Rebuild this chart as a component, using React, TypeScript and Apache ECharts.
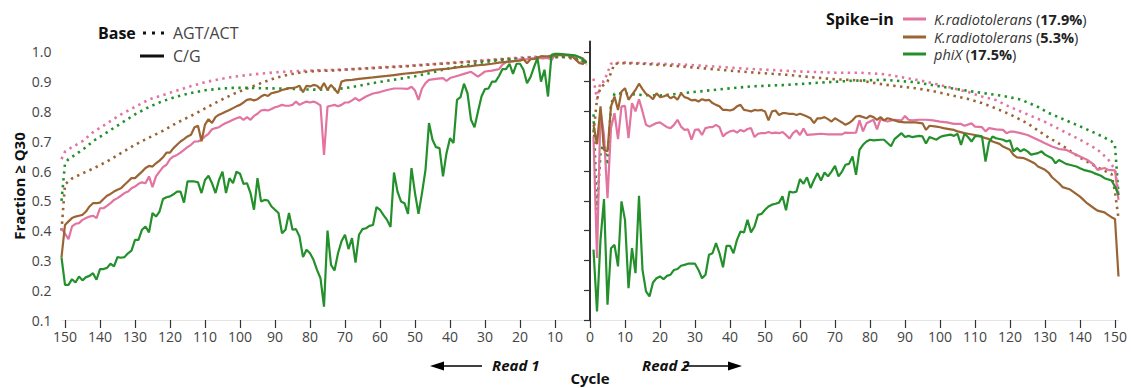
import React, { useEffect, useRef } from "react";
import * as echarts from "echarts";

// ---------- tick labels ----------
const xTicksRead1 = [10, 20, 30, 40, 50, 60, 70, 80, 90, 100, 110, 120, 130, 140, 150];
const xTicksRead2 = [0, 10, 20, 30, 40, 50, 60, 70, 80, 90, 100, 110, 120, 130, 140, 150];
const yTicks = [0.1, 0.2, 0.3, 0.4, 0.5, 0.6, 0.7, 0.8, 0.9, 1.0];

// ---------- Read 1 (cycle, fraction >= Q30) ----------
const r1PinkCG: [number, number][] = [[151,.408],[150,.39],[149,.371],[148,.414],[147,.423],[146,.425],[145,.436],[144,.442],[143,.447],[142,.45],[141,.442],[140,.475],[139,.475],[138,.483],[137,.492],[136,.503],[135,.509],[134,.517],[133,.526],[132,.531],[131,.542],[130,.548],[129,.557],[128,.562],[127,.559],[126,.582],[125,.546],[124,.582],[123,.598],[122,.613],[121,.621],[120,.64],[119,.649],[118,.654],[117,.662],[116,.671],[115,.68],[114,.688],[113,.699],[112,.699],[111,.705],[110,.716],[109,.725],[108,.74],[107,.744],[106,.747],[105,.755],[104,.761],[103,.766],[102,.772],[101,.777],[100,.781],[99,.772],[98,.781],[97,.772],[96,.785],[95,.792],[94,.803],[93,.805],[92,.803],[91,.808],[90,.814],[89,.817],[88,.822],[87,.819],[86,.819],[85,.822],[84,.833],[83,.822],[82,.828],[81,.833],[80,.83],[79,.833],[78,.828],[77,.82],[76,.654],[75,.816],[74,.819],[73,.822],[72,.817],[71,.822],[70,.83],[69,.83],[68,.837],[67,.845],[66,.836],[64,.85],[62,.86],[60,.865],[58,.872],[56,.877],[54,.877],[52,.876],[51,.883],[50,.87],[49,.839],[48,.877],[47,.895],[46,.906],[44,.909],[42,.912],[41,.902],[40,.912],[38,.919],[36,.926],[34,.933],[32,.917],[30,.934],[28,.937],[26,.942],[25,.957],[24,.965],[22,.968],[20,.975],[18,.975],[16,.979],[14,.979],[12,.979],[11,.972],[10,.99],[8,.991],[6,.99],[4,.986],[2,.978],[1,.965]];
const r1BrownCG: [number, number][] = [[151,.31],[150,.419],[149,.431],[148,.442],[147,.447],[146,.45],[145,.453],[144,.464],[143,.481],[142,.492],[141,.492],[140,.494],[139,.506],[138,.517],[137,.523],[136,.531],[135,.537],[134,.542],[133,.554],[132,.565],[131,.576],[130,.576],[129,.587],[128,.598],[127,.61],[126,.617],[125,.615],[124,.626],[123,.635],[122,.646],[121,.662],[120,.662],[119,.677],[118,.688],[117,.699],[116,.707],[115,.716],[114,.722],[113,.747],[112,.752],[111,.70],[110,.756],[109,.774],[108,.761],[107,.781],[106,.789],[105,.794],[104,.8],[103,.805],[102,.811],[101,.817],[100,.822],[99,.83],[98,.839],[97,.841],[96,.837],[95,.841],[94,.85],[93,.856],[92,.852],[91,.861],[90,.864],[89,.867],[88,.872],[87,.875],[86,.878],[85,.878],[84,.881],[83,.886],[82,.864],[81,.886],[80,.884],[79,.889],[78,.886],[77,.875],[76,.895],[75,.872],[74,.889],[73,.875],[72,.861],[71,.9],[70,.904],[68,.906],[66,.909],[64,.912],[62,.914],[60,.917],[58,.919],[56,.922],[54,.925],[52,.928],[50,.93],[48,.933],[46,.937],[44,.94],[42,.942],[40,.944],[38,.948],[36,.95],[34,.952],[32,.955],[30,.957],[28,.96],[26,.964],[24,.966],[22,.969],[20,.97],[19,.975],[18,.962],[17,.975],[16,.976],[14,.985],[12,.985],[10,.988],[8,.99],[6,.988],[5,.984],[4,.973],[3,.962],[2,.96],[1,.971]];
const r1GreenCG: [number, number][] = [[151,.31],[150,.218],[149,.218],[148,.237],[147,.226],[146,.246],[145,.233],[144,.244],[143,.248],[142,.257],[141,.235],[140,.271],[139,.271],[138,.275],[137,.289],[136,.28],[135,.311],[134,.309],[133,.311],[132,.324],[131,.333],[130,.369],[129,.369],[128,.403],[127,.414],[126,.394],[125,.459],[124,.447],[123,.464],[122,.506],[121,.512],[120,.515],[119,.522],[118,.531],[117,.531],[116,.494],[115,.565],[114,.565],[113,.565],[112,.562],[111,.526],[110,.57],[109,.584],[108,.559],[107,.526],[106,.57],[105,.598],[104,.526],[103,.576],[102,.559],[101,.598],[100,.591],[99,.557],[98,.559],[97,.526],[96,.47],[95,.576],[94,.498],[93,.503],[92,.501],[91,.481],[90,.47],[89,.459],[88,.391],[87,.403],[86,.459],[85,.403],[84,.405],[83,.38],[82,.311],[81,.336],[80,.324],[79,.302],[78,.268],[77,.24],[76,.145],[75,.4],[74,.285],[73,.266],[72,.324],[71,.364],[70,.386],[69,.338],[68,.375],[67,.293],[66,.386],[65,.405],[64,.408],[63,.416],[62,.419],[61,.479],[60,.47],[59,.452],[58,.436],[57,.412],[56,.595],[55,.531],[54,.498],[53,.492],[52,.456],[51,.61],[50,.526],[49,.456],[48,.526],[47,.604],[46,.761],[45,.705],[44,.68],[43,.677],[42,.582],[41,.66],[40,.71],[39,.694],[38,.839],[37,.848],[36,.893],[35,.861],[34,.772],[33,.747],[32,.8],[31,.85],[30,.875],[29,.877],[28,.9],[27,.9],[26,.919],[25,.942],[24,.942],[23,.96],[22,.926],[21,.96],[20,.96],[19,.94],[18,.895],[17,.915],[16,.949],[15,.979],[14,.9],[13,.94],[12,.85],[11,.99],[10,.993],[9,.993],[8,.992],[7,.991],[6,.99],[5,.989],[4,.987],[3,.982],[2,.975],[1,.962]];
const r1PinkAGT: [number, number][] = [[151,.64],[150,.665],[148,.68],[145,.70],[142,.73],[138,.76],[134,.79],[130,.815],[126,.84],[122,.855],[118,.87],[114,.885],[110,.898],[106,.908],[102,.916],[98,.922],[94,.927],[90,.931],[86,.934],[82,.936],[78,.938],[74,.939],[70,.941],[64,.945],[58,.949],[52,.953],[46,.958],[40,.963],[34,.968],[28,.974],[22,.979],[16,.983],[11,.986],[7,.985],[5,.982],[3,.975],[1,.955]];
const r1BrownAGT: [number, number][] = [[151,.40],[150,.555],[148,.575],[145,.592],[142,.608],[138,.632],[134,.66],[130,.688],[126,.712],[122,.735],[118,.762],[114,.785],[110,.81],[106,.835],[102,.858],[98,.877],[94,.895],[90,.912],[86,.924],[82,.932],[78,.936],[74,.937],[70,.94],[64,.944],[58,.948],[52,.952],[46,.957],[40,.962],[34,.967],[28,.972],[22,.977],[16,.981],[11,.984],[7,.982],[4,.975],[2,.96],[1,.95]];
const r1GreenAGT: [number, number][] = [[151,.50],[150,.625],[149,.64],[147,.655],[144,.68],[142,.70],[138,.73],[134,.76],[130,.79],[126,.815],[122,.835],[118,.85],[114,.862],[110,.871],[106,.876],[102,.879],[98,.879],[94,.878],[90,.877],[86,.876],[82,.874],[78,.873],[74,.874],[70,.878],[66,.886],[62,.895],[58,.903],[54,.91],[50,.918],[46,.928],[42,.94],[38,.95],[34,.957],[30,.966],[26,.972],[22,.975],[18,.977],[14,.979],[10,.982],[6,.983],[4,.978],[2,.97],[1,.965]];

// ---------- Read 2 ----------
const r2PinkCG: [number, number][] = [[1,.716],[2,.308],[3,.805],[4,.72],[5,.509],[6,.744],[7,.794],[8,.707],[9,.817],[10,.819],[11,.71],[12,.828],[13,.8],[14,.841],[15,.8],[16,.755],[17,.749],[18,.755],[19,.761],[20,.763],[21,.755],[22,.747],[23,.744],[24,.755],[25,.772],[26,.749],[27,.738],[28,.74],[29,.705],[30,.738],[31,.74],[32,.721],[33,.744],[34,.747],[35,.747],[36,.755],[37,.747],[38,.716],[39,.727],[40,.733],[41,.736],[42,.729],[43,.738],[44,.733],[45,.741],[46,.744],[47,.714],[48,.725],[49,.727],[50,.727],[51,.731],[52,.727],[53,.729],[54,.727],[55,.731],[56,.721],[57,.709],[58,.727],[59,.736],[60,.721],[61,.743],[62,.721],[64,.723],[66,.725],[68,.723],[70,.723],[72,.723],[73,.729],[74,.728],[76,.729],[77,.77],[78,.733],[79,.76],[81,.772],[82,.74],[83,.774],[85,.766],[87,.772],[89,.77],[90,.785],[91,.772],[92,.77],[94,.772],[96,.772],[98,.77],[100,.766],[102,.763],[104,.758],[106,.758],[107,.752],[109,.76],[110,.749],[112,.747],[113,.733],[114,.744],[116,.74],[118,.738],[119,.727],[120,.732],[121,.732],[123,.727],[125,.721],[127,.71],[129,.699],[130,.693],[132,.682],[134,.674],[136,.671],[138,.66],[140,.649],[142,.638],[144,.621],[145,.604],[147,.61],[148,.604],[150,.602],[151,.503]];
const r2BrownCG: [number, number][] = [[1,.755],[2,.69],[3,.817],[4,.671],[5,.666],[6,.817],[7,.85],[8,.805],[9,.867],[10,.878],[11,.839],[12,.856],[13,.872],[14,.893],[15,.875],[16,.859],[17,.852],[18,.841],[19,.861],[20,.848],[21,.85],[22,.855],[23,.844],[24,.85],[25,.839],[26,.861],[27,.848],[28,.844],[29,.837],[30,.839],[31,.833],[32,.841],[33,.837],[34,.839],[35,.828],[36,.822],[37,.817],[38,.805],[39,.805],[40,.803],[41,.807],[42,.817],[43,.822],[44,.805],[45,.803],[46,.8],[47,.805],[48,.803],[49,.805],[50,.8],[51,.77],[52,.8],[53,.803],[54,.788],[55,.794],[56,.794],[57,.792],[58,.792],[59,.788],[60,.792],[61,.788],[62,.783],[63,.777],[64,.761],[65,.777],[66,.777],[67,.781],[68,.774],[69,.766],[70,.777],[71,.77],[72,.763],[73,.755],[74,.761],[75,.77],[76,.783],[77,.785],[79,.777],[80,.785],[81,.781],[82,.772],[83,.781],[84,.77],[85,.777],[86,.774],[87,.77],[88,.766],[90,.763],[91,.763],[93,.763],[95,.76],[96,.738],[97,.752],[99,.749],[100,.747],[101,.744],[103,.74],[104,.738],[105,.733],[107,.727],[108,.725],[110,.721],[111,.718],[112,.714],[114,.707],[115,.699],[117,.691],[118,.682],[120,.671],[121,.654],[122,.646],[124,.643],[125,.638],[127,.626],[128,.615],[130,.604],[131,.595],[132,.579],[134,.559],[135,.546],[137,.539],[138,.531],[140,.514],[141,.503],[142,.492],[144,.475],[145,.467],[147,.461],[148,.453],[149,.445],[150,.439],[151,.246]];
const r2GreenCG: [number, number][] = [[1,.336],[2,.129],[3,.369],[4,.506],[5,.151],[6,.341],[7,.352],[8,.28],[9,.498],[10,.436],[11,.207],[12,.341],[13,.257],[14,.517],[15,.268],[16,.196],[17,.179],[18,.226],[19,.24],[20,.246],[21,.237],[22,.248],[23,.252],[24,.268],[25,.271],[26,.282],[27,.285],[28,.289],[29,.289],[30,.289],[31,.268],[32,.24],[33,.252],[34,.319],[35,.324],[36,.358],[37,.324],[38,.277],[39,.349],[40,.349],[41,.324],[42,.369],[43,.397],[44,.394],[45,.436],[46,.394],[47,.414],[48,.453],[49,.456],[50,.47],[51,.481],[52,.487],[53,.49],[54,.494],[55,.515],[56,.468],[57,.531],[58,.528],[59,.531],[60,.573],[61,.557],[62,.579],[63,.543],[64,.57],[65,.593],[66,.568],[67,.595],[68,.582],[69,.598],[70,.617],[71,.582],[72,.598],[73,.621],[74,.624],[75,.649],[76,.587],[77,.671],[78,.688],[79,.699],[80,.705],[81,.703],[83,.705],[84,.705],[86,.683],[87,.707],[89,.727],[90,.714],[91,.718],[92,.714],[94,.718],[95,.716],[96,.692],[97,.714],[99,.705],[100,.714],[101,.718],[103,.722],[104,.718],[105,.725],[106,.688],[107,.725],[108,.714],[109,.699],[110,.716],[111,.718],[112,.716],[113,.632],[114,.696],[115,.716],[116,.71],[118,.705],[119,.699],[120,.703],[121,.666],[122,.677],[123,.666],[124,.673],[125,.666],[126,.655],[128,.66],[129,.666],[130,.655],[132,.643],[133,.626],[134,.637],[136,.624],[137,.621],[139,.615],[140,.609],[141,.604],[143,.598],[144,.593],[146,.584],[147,.576],[149,.568],[150,.548],[151,.52]];
const r2PinkAGT: [number, number][] = [[1,.91],[2,.84],[3,.90],[4,.90],[5,.93],[6,.96],[7,.963],[10,.964],[15,.962],[20,.96],[25,.958],[30,.955],[35,.951],[40,.947],[45,.943],[50,.94],[55,.937],[60,.934],[65,.932],[70,.93],[77,.93],[84,.925],[90,.913],[96,.90],[103,.88],[108,.865],[112,.85],[116,.838],[120,.815],[125,.79],[130,.765],[135,.735],[140,.705],[145,.672],[148,.64],[150,.605],[151,.52]];
const r2BrownAGT: [number, number][] = [[1,.73],[2,.84],[3,.88],[4,.89],[5,.90],[6,.93],[7,.96],[10,.962],[15,.96],[20,.956],[25,.952],[30,.947],[37,.94],[46,.931],[56,.923],[65,.913],[70,.908],[77,.904],[84,.89],[93,.878],[98,.868],[103,.855],[108,.842],[112,.828],[116,.81],[120,.79],[125,.76],[130,.72],[135,.685],[140,.645],[145,.612],[148,.595],[149,.59],[150,.53],[151,.44]];
const r2GreenAGT: [number, number][] = [[1,.79],[2,.47],[3,.66],[4,.70],[5,.62],[6,.82],[7,.86],[10,.86],[15,.855],[20,.853],[27,.862],[37,.874],[46,.884],[56,.889],[65,.896],[75,.903],[84,.906],[93,.898],[103,.878],[112,.862],[118,.852],[123,.84],[128,.815],[131,.795],[136,.77],[141,.745],[146,.718],[149,.70],[150,.685],[151,.52]];

const PINK = "#E2749F";
const BROWN = "#9A6433";
const GREEN = "#23902B";
const FONT = "'Open Sans', 'Noto Sans', sans-serif";

function lineSeries(name: string, data: [number, number][], color: string, dotted: boolean, idx: number) {
  return {
    name,
    type: "line",
    xAxisIndex: idx,
    yAxisIndex: idx,
    data,
    showSymbol: false,
    symbol: "none",
    silent: true,
    z: dotted ? 2 : 3,
    lineStyle: dotted
      ? { color, width: 2.6, type: [2.4, 4.4], cap: "butt" }
      : { color, width: 2.2, type: "solid" },
  };
}

function label(text: string, x: number, y: number, extra: any = {}) {
  return {
    type: "text", x, y,
    style: {
      text, fontFamily: FONT, fontSize: 15, fill: "#111", lineHeight: 16,
      align: "left", verticalAlign: "middle", textAlign: "left", textVerticalAlign: "middle",
      ...extra,
    },
  };
}

export default function App() {
  const ref = useRef<HTMLDivElement>(null);

  useEffect(() => {
    if (!ref.current) return;
    const chart = echarts.init(ref.current, null, { renderer: "svg" });
    const yMin = 0.1;
    const yMax = 1.035;
    const axisFont = { fontFamily: FONT, fontSize: 14, color: "#444" };
    const tickStyle = { color: "#333", width: 1.2 };

    const option: any = {
      animation: false,
      backgroundColor: "#ffffff",
      grid: [
        { left: 61.5, top: 41.4, width: 528.5, height: 278.6 },
        { left: 590, top: 41.4, width: 528.5, height: 278.6 },
      ],
      xAxis: [
        {
          gridIndex: 0, type: "value", min: 0, max: 151, inverse: true, interval: 10,
          axisLine: { show: true, lineStyle: { color: "#e4e4e4", width: 1 } },
          axisTick: { show: true, length: 8, lineStyle: tickStyle, customValues: xTicksRead1 },
          axisLabel: { ...axisFont, margin: 9, customValues: xTicksRead1 },
          splitLine: { show: false },
        },
        {
          gridIndex: 1, type: "value", min: 0, max: 151, interval: 10,
          axisLine: { show: true, lineStyle: { color: "#e4e4e4", width: 1 } },
          axisTick: { show: true, length: 8, lineStyle: tickStyle, customValues: xTicksRead2 },
          axisLabel: { ...axisFont, margin: 9, customValues: xTicksRead2 },
          splitLine: { show: false },
        },
      ],
      yAxis: [
        {
          gridIndex: 0, type: "value", min: yMin, max: yMax, interval: 0.1,
          axisLine: { show: true, lineStyle: { color: "#e4e4e4", width: 1 } },
          axisTick: { show: true, length: 6, lineStyle: tickStyle, customValues: yTicks },
          axisLabel: { ...axisFont, margin: 10, customValues: yTicks, formatter: (v: number) => v.toFixed(1) },
          splitLine: { show: false },
        },
        {
          gridIndex: 1, type: "value", min: yMin, max: yMax,
          axisLine: { show: true, lineStyle: { color: "#333", width: 2 } },
          axisTick: { show: false },
          axisLabel: { show: false },
          splitLine: { show: false },
        },
      ],
      series: [
        lineSeries("R1 K.rad 17.9 AGT", r1PinkAGT, PINK, true, 0),
        lineSeries("R1 K.rad 5.3 AGT", r1BrownAGT, BROWN, true, 0),
        lineSeries("R1 phiX AGT", r1GreenAGT, GREEN, true, 0),
        lineSeries("R1 K.rad 17.9 CG", r1PinkCG, PINK, false, 0),
        lineSeries("R1 K.rad 5.3 CG", r1BrownCG, BROWN, false, 0),
        lineSeries("R1 phiX CG", r1GreenCG, GREEN, false, 0),
        lineSeries("R2 K.rad 17.9 AGT", r2PinkAGT, PINK, true, 1),
        lineSeries("R2 K.rad 5.3 AGT", r2BrownAGT, BROWN, true, 1),
        lineSeries("R2 phiX AGT", r2GreenAGT, GREEN, true, 1),
        lineSeries("R2 K.rad 17.9 CG", r2PinkCG, PINK, false, 1),
        lineSeries("R2 K.rad 5.3 CG", r2BrownCG, BROWN, false, 1),
        lineSeries("R2 phiX CG", r2GreenCG, GREEN, false, 1),
      ],
      graphic: [
        // y axis title
        {
          type: "text", x: 19, y: 186, rotation: Math.PI / 2,
          style: { text: "Fraction ≥ Q30", fontFamily: FONT, fontSize: 15, fontWeight: "bold", fill: "#111", lineHeight: 16, align: "center", verticalAlign: "middle", textAlign: "center", textVerticalAlign: "middle" },
        },
        // x axis title
        label("Cycle", 590, 378, { fontWeight: "bold", align: "center", textAlign: "center" }),
        // Read 1 arrow
        { type: "line", shape: { x1: 440, y1: 366, x2: 482, y2: 366 }, style: { stroke: "#000", lineWidth: 1.5 } },
        { type: "polygon", shape: { points: [[430, 366], [444, 361.5], [444, 370.5]] }, style: { fill: "#000" } },
        label("Read 1", 492, 365, { fontWeight: "bold", fontStyle: "italic" }),
        // Read 2 arrow
        label("Read 2", 642, 365, { fontWeight: "bold", fontStyle: "italic" }),
        { type: "line", z: 10, shape: { x1: 684, y1: 366, x2: 731, y2: 366 }, style: { stroke: "#000", lineWidth: 1.5 } },
        { type: "polygon", z: 10, shape: { points: [[742, 366], [728, 361.5], [728, 370.5]] }, style: { fill: "#000" } },
        // Base legend
        label("Base", 98, 33, { fontSize: 16, fontWeight: "bold" }),
        { type: "line", shape: { x1: 143, y1: 33, x2: 166, y2: 33 }, style: { stroke: "#111", lineWidth: 3, lineDash: [3, 6] } },
        label("AGT/ACT", 173, 33, { fontSize: 16, fill: "#444" }),
        { type: "line", shape: { x1: 140, y1: 56, x2: 164, y2: 56 }, style: { stroke: "#111", lineWidth: 3 } },
        label("C/G", 173, 56, { fontSize: 16, fill: "#444" }),
        // Spike-in legend
        label("Spike−in", 826, 19, { fontSize: 16, fontWeight: "bold" }),
        { type: "line", shape: { x1: 903, y1: 19, x2: 926, y2: 19 }, style: { stroke: PINK, lineWidth: 3 } },
        { type: "line", shape: { x1: 903, y1: 37, x2: 926, y2: 37 }, style: { stroke: BROWN, lineWidth: 3 } },
        { type: "line", shape: { x1: 903, y1: 54, x2: 926, y2: 54 }, style: { stroke: GREEN, lineWidth: 3 } },
        ...[
          { y: 19, name: "K.radiotolerans", pct: "17.9%" },
          { y: 37, name: "K.radiotolerans", pct: "5.3%" },
          { y: 54.5, name: "phiX", pct: "17.5%" },
        ].map((it) => ({
          type: "text", x: 934, y: it.y,
          style: {
            text: `{i|${it.name}} {n|(}{b|${it.pct}}{n|)}`,
            fontFamily: FONT, fontSize: 14.5, fill: "#333", lineHeight: 14,
            align: "left", verticalAlign: "middle", textAlign: "left", textVerticalAlign: "middle",
            rich: {
              i: { fontFamily: FONT, fontSize: 14.5, lineHeight: 14, fontStyle: "italic", fill: "#333", color: "#333" },
              n: { fontFamily: FONT, fontSize: 14.5, lineHeight: 14, fill: "#333", color: "#333" },
              b: { fontFamily: FONT, fontSize: 14.5, lineHeight: 14, fontWeight: "bold", fill: "#222", color: "#222" },
            },
          },
        })),
      ],
    };

    chart.setOption(option);
    return () => chart.dispose();
  }, []);

  return (
    <div
      ref={ref}
      style={{ position: "absolute", left: 0, top: 0, width: 1131, height: 388, background: "#fff" }}
    />
  );
}
